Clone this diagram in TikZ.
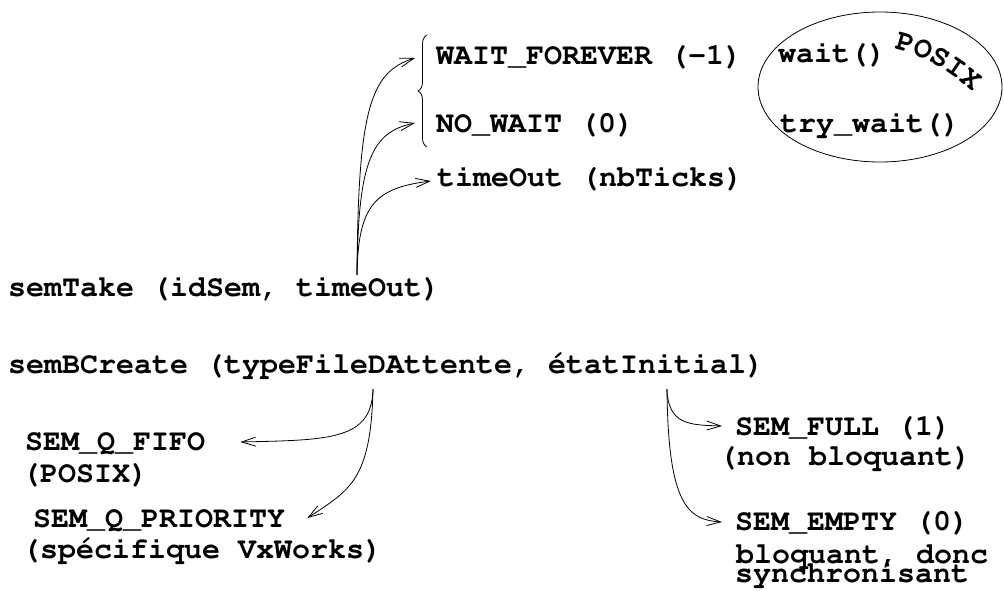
\documentclass[tikz,border=0pt]{standalone}
\usepackage[T1]{fontenc}
\usetikzlibrary{arrows.meta,decorations.pathreplacing,decorations.text,shapes.geometric}
\newcommand{\codefont}{\fontfamily{pcr}\fontseries{b}\fontsize{30}{30}\selectfont}
\begin{document}
\begin{tikzpicture}[x=1pt,y=-1pt,
  lbl/.style={anchor=base west, inner sep=0pt, font=\codefont},
  arr/.style={-{Straight Barb[length=14pt,width=9pt]}, line width=0.8pt},
  thin line/.style={line width=0.8pt}]
\useasboundingbox (0,0) rectangle (1004,591);

% semTake and its timeout values
\node[lbl] (st) at (8,296) {semTake (idSem, timeOut)};
\node[lbl] (wf) at (436,65) {WAIT\_FOREVER (-1)};
\node[lbl] (nw) at (436,132) {NO\_WAIT (0)};
\node[lbl] (to) at (437,186) {timeOut (nbTicks)};

% POSIX equivalents
\node[draw, ellipse, thin line, minimum width=244pt, minimum height=150pt, inner sep=0pt] (posix) at (880,87) {};
\node[lbl] (wt) at (778,63) {wait()};
\node[lbl] (tw) at (780,133) {try\_wait()};
\path[decorate, decoration={text along path, text align=left,
    text={|\codefont|POSIX}}]
  (894,49) .. controls (922,55) and (950,70) .. (992,108);

% brace grouping the two special values
\draw[thin line, decorate, decoration={brace, amplitude=9pt}] (427,147) -- (427,35);

\coordinate (tk) at (357,275);
\draw[arr] (tk) .. controls (358,110) and (370,72) .. ([xshift=-21pt,yshift=7pt]wf.base west);
\draw[arr] (tk) .. controls (358,160) and (372,132) .. ([xshift=-21pt,yshift=9pt]nw.base west);
\draw[arr] (tk) .. controls (358,205) and (375,188) .. ([xshift=-6pt,yshift=5pt]to.base west);

% semBCreate and its two parameters
\node[lbl] (sb) at (8,373) {semBCreate (typeFileDAttente, étatInitial)};

\node[lbl] (fifo) at (25,450) {SEM\_Q\_FIFO};
\node[lbl] (fifob) at (22,482) {(POSIX)};
\node[lbl] (prio) at (33,527) {SEM\_Q\_PRIORITY};
\node[lbl] (priob) at (22,558) {(spécifique VxWorks)};

\node[lbl] (full) at (735,435) {SEM\_FULL (1)};
\node[lbl] (fullb) at (719,465) {(non bloquant)};
\node[lbl] (empty) at (735,530) {SEM\_EMPTY (0)};
\node[lbl] (emptyb) at (736,563) {bloquant, donc};
\node[lbl] (emptyc) at (735,582) {synchronisant};

\coordinate (bq) at (373,389);
\coordinate (ei) at (667,389);
\draw[arr] (bq) .. controls (372,440) and (330,440) .. ([xshift=35pt,yshift=8pt]fifo.base east);
\draw[arr] (bq) .. controls (371,480) and (350,490) .. ([xshift=22pt,yshift=9pt]prio.base east);
\draw[arr] (ei) .. controls (668,425) and (690,425) .. ([xshift=-13pt,yshift=9pt]full.base west);
\draw[arr] (ei) .. controls (668,505) and (688,520) .. ([xshift=-13pt,yshift=8pt]empty.base west);
\end{tikzpicture}
\end{document}
